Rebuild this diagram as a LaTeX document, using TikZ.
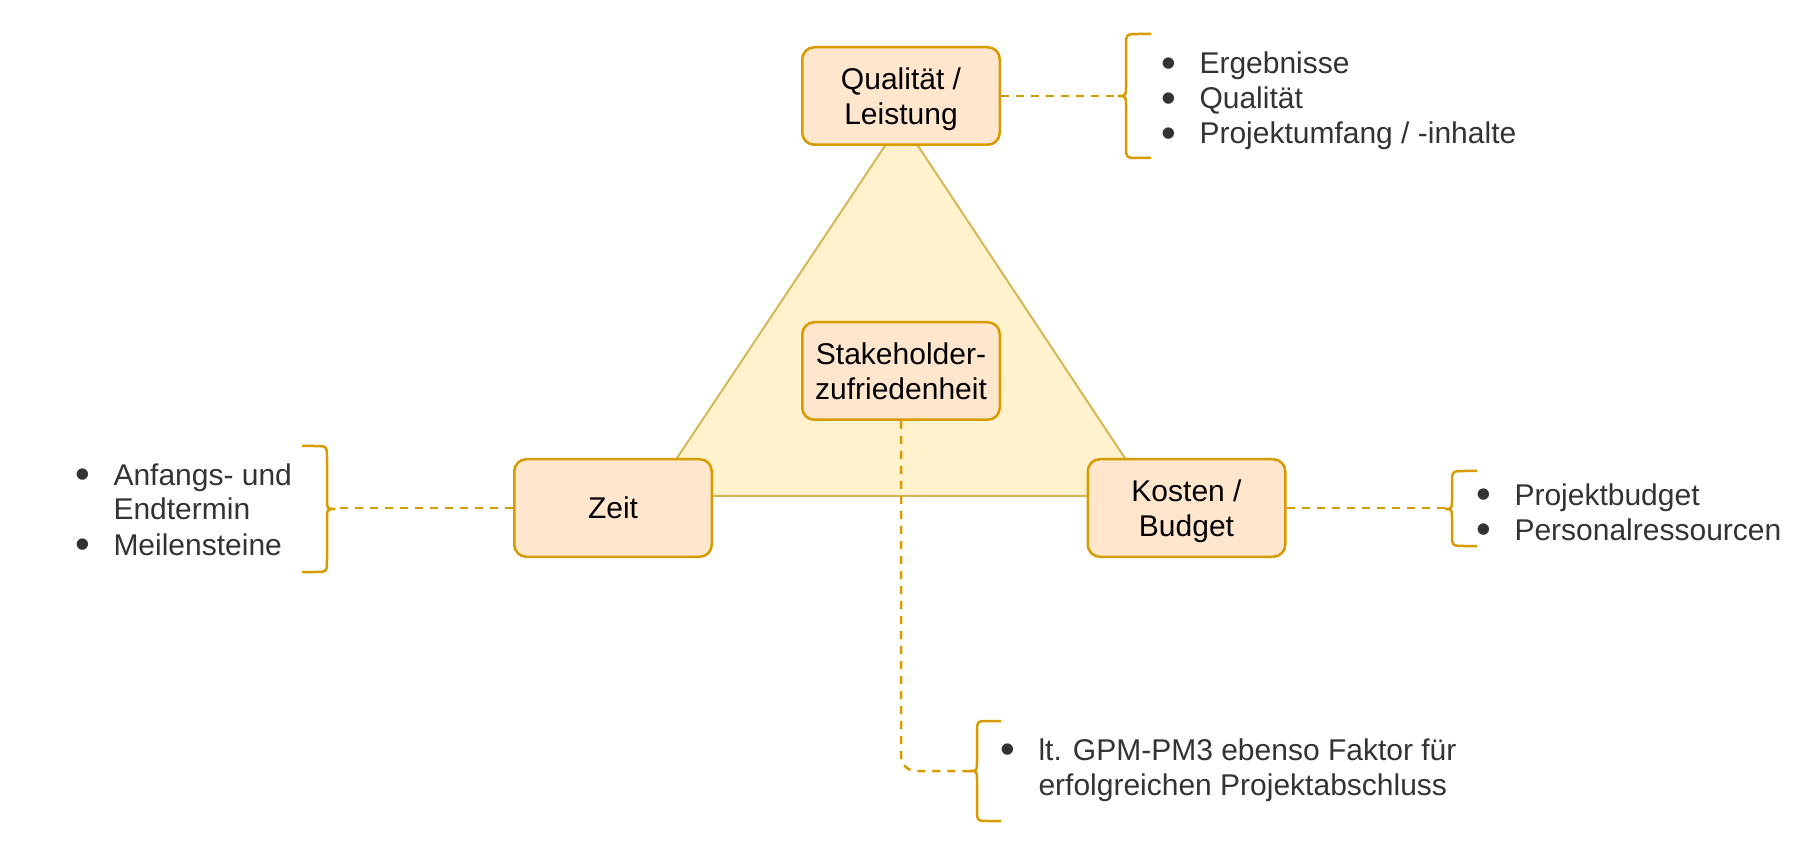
\documentclass[tikz,border=0pt]{standalone}
\usepackage{graphicx}
\usepackage{fontspec}
\setmainfont{Liberation Sans}
\definecolor{boxfill}{HTML}{FFE6CC}
\definecolor{boxline}{HTML}{D79B00}
\definecolor{trifill}{HTML}{FFF2CC}
\definecolor{triline}{HTML}{D6B656}
\definecolor{listtext}{HTML}{333333}
\tikzset{
  box/.style={draw=boxline, fill=boxfill, line width=1.25pt, rounded corners=6pt,
    minimum width=98.75pt, minimum height=48.75pt, align=center,
    font=\fontsize{15}{17.5}\selectfont},
  items/.style={anchor=west, inner sep=0pt, text=listtext,
    font=\fontsize{15}{17.5}\selectfont},
  link/.style={draw=boxline, line width=1.25pt, dash pattern=on 4pt off 3.5pt},
  brace/.style={draw=boxline, line width=1.25pt},
}
\newcommand{\dotmark}{\makebox[5.25pt]{\smash{\raisebox{-1.6pt}{\scalebox{1.4}{•}}}}}
\newcommand{\itemlist}[1]{\begin{tabular}{@{}l@{\hspace{12.8pt}}l@{}}#1\end{tabular}}
\begin{document}
\begin{tikzpicture}[x=0.5pt,y=-0.5pt]
      \useasboundingbox (0,0) rectangle (1803,860);
      % triangle
      \draw[fill=trifill, draw=triline, line width=1pt]
        (901.5,121) -- (651.7,496) -- (1150,496) -- cycle;
      \draw
        (901,96) node[box] (qual) {Qualität /\\\smash{Leistung}}
        (613,508) node[box] (zeit) {Zeit}
        (1186.5,508) node[box] (kost) {Kosten /\\\smash{Budget}}
        (901,371) node[box] (stake) {Stakeholder-\\zufriedenheit};
      % lists
      \draw
        (1163,102) node[items] (qlist) {\itemlist{\dotmark & Ergebnisse\\ \dotmark & Qualität\\ \dotmark & Projektumfang / -inhalte}}
        (77,513) node[items] (zlist) {\itemlist{\dotmark & Anfangs- und\\ & Endtermin\\ \dotmark & Meilensteine}}
        (1478,516) node[items] (klist) {\itemlist{\dotmark & Projektbudget\\ \dotmark & Personalressourcen}}
        (1002,771) node[items] (slist) {\itemlist{\dotmark & lt. GPM-PM3 ebenso Faktor für\\ & erfolgreichen Projektabschluss}};
      % braces
      \draw[brace] (1151,34) -- (1139,34) .. controls (1126,34) .. (1126,47) -- (1126,84)
        .. controls (1126,96) .. (1118,96) .. controls (1126,96) .. (1126,108) -- (1126,145)
        .. controls (1126,158) .. (1139,158) -- (1151,158);
      \draw[brace] (302,446) -- (314,446) .. controls (327,446) .. (327,459) -- (327,497)
        .. controls (327,509) .. (335,509) .. controls (327,509) .. (327,521) -- (327,559)
        .. controls (327,572) .. (314,572) -- (302,572);
      \draw[brace] (1477,471) -- (1465,471) .. controls (1452,471) .. (1452,484) -- (1452,497)
        .. controls (1452,509) .. (1445,509) .. controls (1452,509) .. (1452,521) -- (1452,533)
        .. controls (1452,546) .. (1465,546) -- (1477,546);
      \draw[brace] (1001,721) -- (989,721) .. controls (977,721) .. (977,733) -- (977,759)
        .. controls (977,771) .. (970,771) .. controls (977,771) .. (977,783) -- (977,809)
        .. controls (977,821) .. (989,821) -- (1001,821);
      \coordinate (qtip) at (1118,96);
      \coordinate (ztip) at (335,508);
      \coordinate (ktip) at (1445,508);
      \coordinate (stip) at (970,771);
      \begin{scope}[link]
        \draw (qual) to (qtip);
        \draw (zeit) to (ztip);
        \draw (kost) to (ktip);
        \draw[rounded corners=7.5pt] (stake.south) |- (stip);
      \end{scope}
    \end{tikzpicture}
\end{document}
